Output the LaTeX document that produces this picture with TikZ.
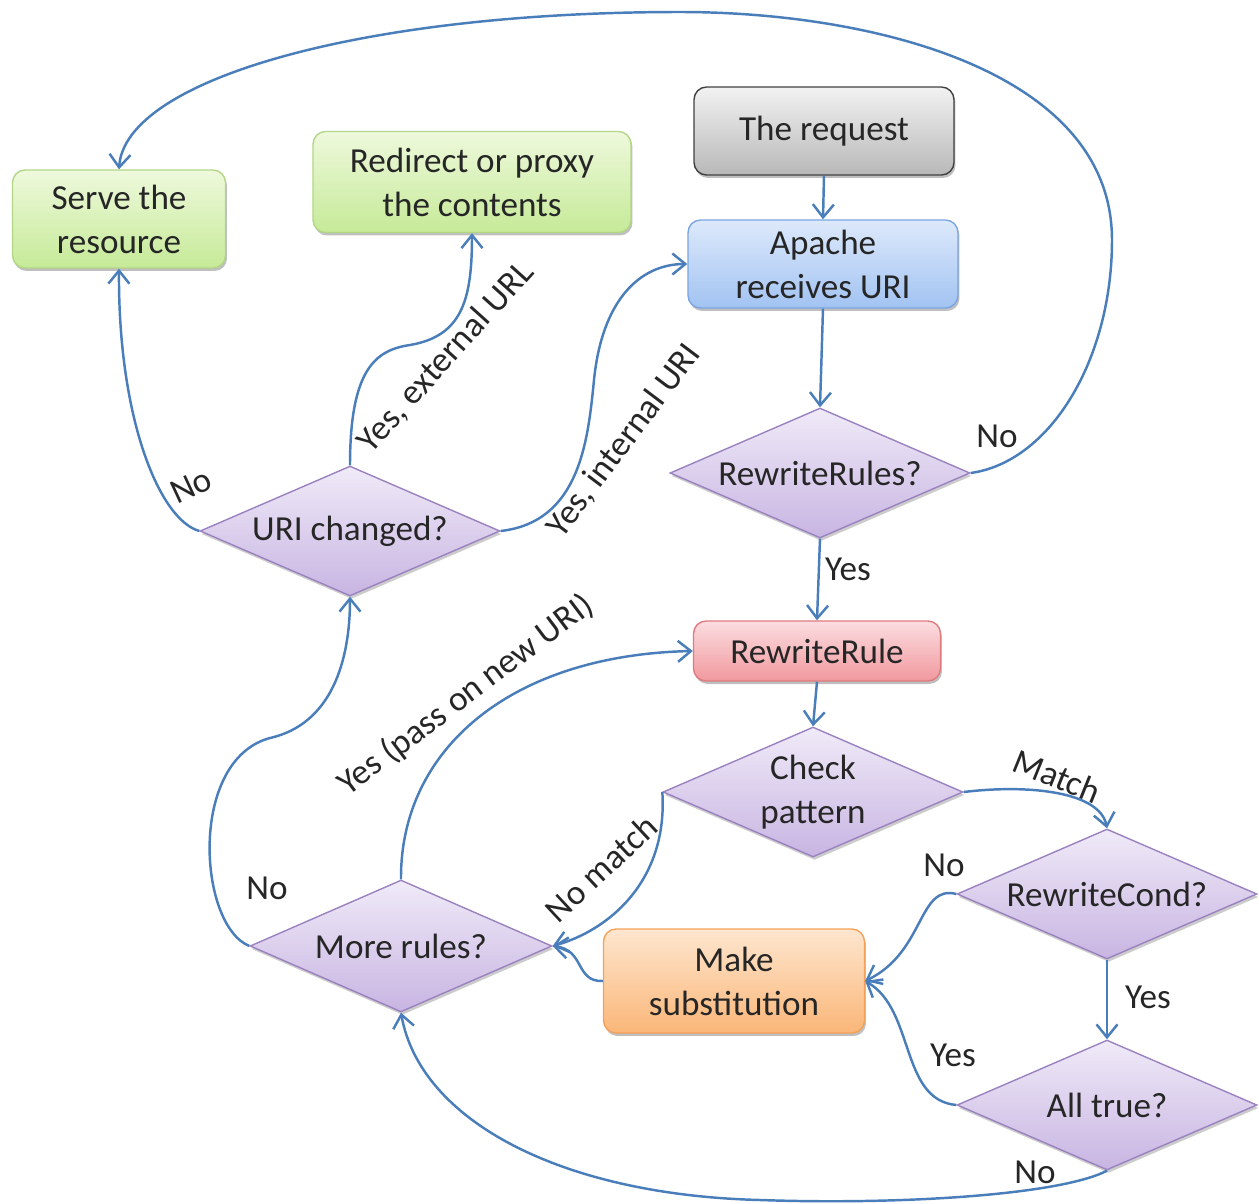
\documentclass[tikz,border=0pt]{standalone}
\usepackage{fontspec}
\setmainfont{Carlito}
\usetikzlibrary{shapes.geometric,arrows.meta,shadows}
\definecolor{ln}{HTML}{4A7EBB}
\definecolor{txt}{HTML}{262626}
\definecolor{grayT}{HTML}{F2F2F2}\definecolor{grayB}{HTML}{B8B8B8}\definecolor{grayD}{HTML}{404040}
\definecolor{blueT}{HTML}{DDE9FB}\definecolor{blueB}{HTML}{A2C3F2}\definecolor{blueD}{HTML}{7BA5E0}
\definecolor{grnT}{HTML}{EEF9DC}\definecolor{grnB}{HTML}{C6EA98}\definecolor{grnD}{HTML}{B2D686}
\definecolor{redT}{HTML}{FBDDE0}\definecolor{redB}{HTML}{F1999E}\definecolor{redD}{HTML}{DE7A80}
\definecolor{orgT}{HTML}{FEE6CF}\definecolor{orgB}{HTML}{FAB678}\definecolor{orgD}{HTML}{F2A25A}
\definecolor{purT}{HTML}{F0EAF8}\definecolor{purB}{HTML}{C8B5E2}\definecolor{purD}{HTML}{9A82C0}
\begin{document}
\begin{tikzpicture}[x=0.02cm,y=-0.02cm,
  font=\fontsize{20}{25}\selectfont,
  box/.style={rectangle, rounded corners=0.25cm, align=center, inner sep=0pt, text=txt, line width=0.8pt,
    drop shadow={shadow xshift=0.03cm, shadow yshift=-0.06cm, opacity=0.25, fill=black}},
  dia/.style={diamond, aspect=2.3, inner sep=0pt, minimum width=6cm, minimum height=2.6cm,
    draw=purD, top color=purT, bottom color=purB, align=center, text=txt, line width=0.8pt,
    drop shadow={shadow xshift=0.03cm, shadow yshift=-0.06cm, opacity=0.2, fill=black}},
  conn/.style={draw=ln, line width=1.4pt, -{Straight Barb[length=2.6mm,width=4.2mm,line width=1.4pt]}},
  lbl/.style={text=txt, inner sep=0pt}
]
\useasboundingbox (0,0) rectangle (1259,1204);

% boxes
\node[box, draw=grayD, top color=grayT, bottom color=grayB, minimum width=5.2cm, minimum height=1.76cm] (req) at (824,131) {The request};
\node[box, draw=blueD, top color=blueT, bottom color=blueB, minimum width=5.4cm, minimum height=1.76cm] (apa) at (823,264) {Apache\\receives URI};
\node[box, draw=grnD, top color=grnT, bottom color=grnB, minimum width=4.26cm, minimum height=1.96cm] (srv) at (119,219) {Serve the\\resource};
\node[box, draw=grnD, top color=grnT, bottom color=grnB, minimum width=6.36cm, minimum height=2.02cm] (red) at (472,182) {Redirect or proxy\\the contents};
\node[box, draw=redD, top color=redT, bottom color=redB, minimum width=4.94cm, minimum height=1.2cm] (rwr) at (817,651) {RewriteRule};
\node[box, draw=orgD, top color=orgT, bottom color=orgB, minimum width=5.22cm, minimum height=2.08cm] (ms) at (734,981) {Make\\substitution};

% diamonds
\node[dia] (rr) at (820,473) {RewriteRules?};
\node[dia] (uc) at (350,531) {URI changed?};
\node[dia] (cp) at (813,792) {Check\\pattern};
\node[dia] (rc) at (1107,894) {RewriteCond?};
\node[dia, minimum width=6.04cm, minimum height=2.64cm] (mr) at (401,946) {More rules?};
\node[dia] (at) at (1107,1105) {All true?};

% straight connectors
\draw[conn] (req.south) -- (apa.north);
\draw[conn] (apa.south) -- (rr.north);
\draw[conn] (rr.south) -- (rwr.north);
\draw[conn] (rwr.south) -- (cp.north);
\draw[conn] (rc.south) -- (at.north);

% curved connectors
\draw[conn] (rr.east) .. controls (1050,462) and (1112,360) .. (1112,240)
  .. controls (1112,70) and (870,12) .. (680,12)
  .. controls (360,12) and (125,80) .. (srv.north);
\draw[conn] (uc.west) .. controls (160,520) and (118,420) .. (srv.south);
\draw[conn] (uc.north) .. controls (350,370) and (375,350) .. (410,345)
  .. controls (462,336) and (472,300) .. (red.south);
\draw[conn] (uc.east) .. controls (580,522) and (588,440) .. (594,380)
  .. controls (602,300) and (640,264) .. (apa.west);
\draw[conn] (mr.west) .. controls (198,925) and (188,760) .. (270,738)
  .. controls (332,724) and (350,660) .. (uc.south);
\draw[conn] (mr.north) .. controls (400,750) and (510,655) .. (rwr.west);
\draw[conn] (cp.west) .. controls (668,880) and (610,930) .. (mr.east);
\draw[conn] (ms.west) .. controls (575,982) and (585,950) .. (mr.east);
\draw[conn] (cp.east) .. controls (1030,784) and (1100,792) .. (rc.north);
\draw[conn] (rc.west) .. controls (918,884) and (925,952) .. (ms.east);
\draw[conn] (at.west) .. controls (900,1100) and (915,1010) .. (ms.east);
\draw[conn] (at.south) .. controls (1060,1195) and (900,1205) .. (760,1200)
  .. controls (560,1195) and (420,1120) .. (mr.south);

% labels
\node[lbl] (l1) at (997,436) {No};
\node[lbl] (l2) at (848,569) {Yes};
\node[lbl, rotate=25] (l3) at (191,486) {No};
\node[lbl, rotate=48] (l4) at (446,357) {Yes, external URL};
\node[lbl, rotate=53] (l5) at (624,441) {Yes, internal URI};
\node[lbl, rotate=37] (l6) at (466,695) {Yes (pass on new URI)};
\node[lbl, rotate=43] (l7) at (601,868) {No match};
\node[lbl, rotate=-22] (l8) at (1057,776) {Match};
\node[lbl] (l9) at (944,865) {No};
\node[lbl] (l10) at (1148,997) {Yes};
\node[lbl] (l11) at (953,1055) {Yes};
\node[lbl] (l12) at (1035,1172) {No};
\node[lbl] (l13) at (267,888) {No};
\end{tikzpicture}
\end{document}
